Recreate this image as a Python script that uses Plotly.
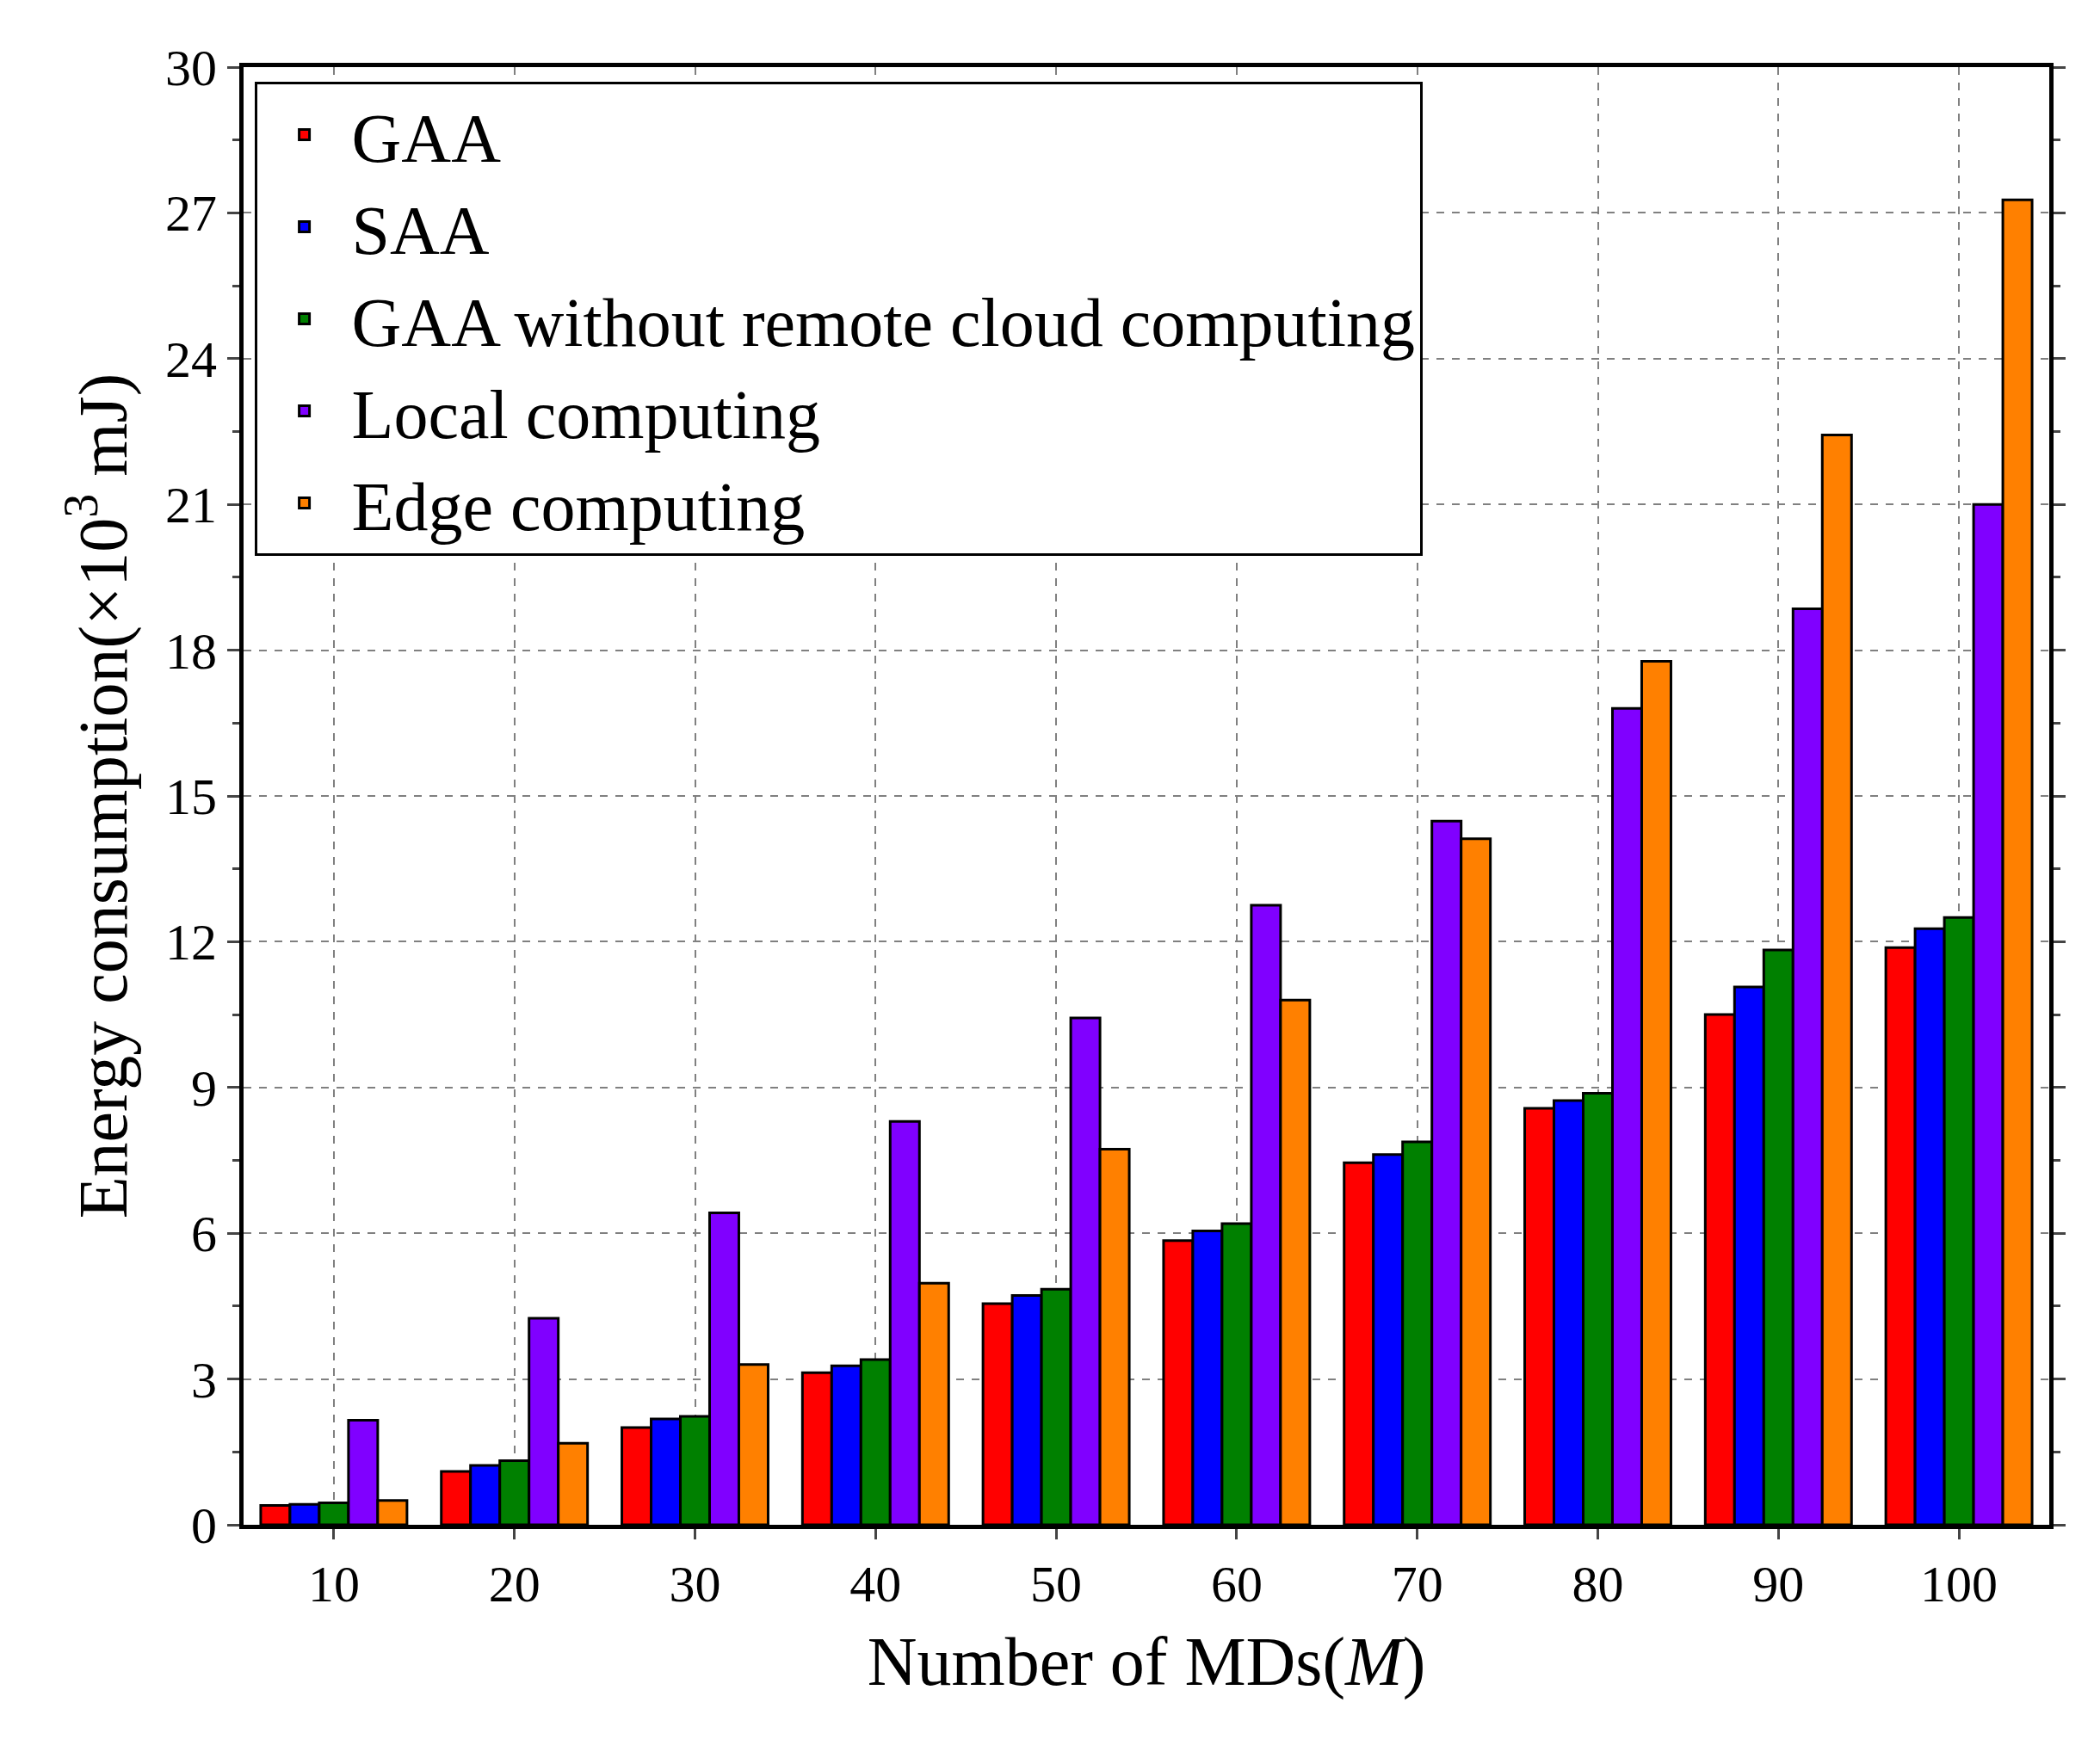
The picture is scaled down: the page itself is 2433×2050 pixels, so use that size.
import plotly.graph_objects as go

categories = ["10","20","30","40","50","60","70","80","90","100"]
gaa   = [0.40,1.10,2.00,3.13,4.55,5.85,7.45,8.57,10.50,11.88]
saa   = [0.42,1.22,2.18,3.27,4.72,6.05,7.62,8.73,11.07,12.27]
gaawo = [0.45,1.32,2.23,3.40,4.85,6.20,7.88,8.88,11.83,12.50]
local = [2.15,4.25,6.42,8.30,10.43,12.75,14.48,16.80,18.85,21.00]
edge  = [0.50,1.68,3.30,4.97,7.73,10.80,14.12,17.77,22.43,27.27]

series = [("GAA",gaa,"#ff0000"),("SAA",saa,"#0000ff"),
          ("GAA without remote cloud computing",gaawo,"#008000"),
          ("Local computing",local,"#8000ff"),("Edge computing",edge,"#ff8000")]

fig = go.Figure()
for name, vals, col in series:
    fig.add_trace(go.Bar(x=categories, y=vals, name=name,
                         marker=dict(color=col, line=dict(color="black", width=3))))

font = "Liberation Serif"
fig.update_layout(
    width=2433, height=2050, barmode="group", bargap=0.19, bargroupgap=0,
    plot_bgcolor="white", paper_bgcolor="white",
    margin=dict(l=275, r=60, t=70, b=286),
    font=dict(family=font, size=60, color="black"),
    legend=dict(x=0.006, y=0.99, xanchor="left", yanchor="top",
                bordercolor="black", borderwidth=3, bgcolor="white",
                font=dict(size=80), itemwidth=100, tracegroupgap=0),
    xaxis=dict(title=dict(text="Number of MDs(<i>M</i>)", font=dict(size=80), standoff=30),
               showline=True, mirror=True, linecolor="black", linewidth=5,
               ticks="outside", ticklen=12, tickwidth=3,
               showgrid=True, gridcolor="gray", griddash="dash", gridwidth=2),
    yaxis=dict(title=dict(text="Energy consumption(×10<sup>3</sup> mJ)", font=dict(size=80), standoff=20),
               range=[0,30], dtick=3, showline=True, mirror="ticks", linecolor="black", linewidth=5,
               ticks="outside", ticklen=14, tickwidth=3,
               minor=dict(dtick=1.5, ticks="outside", ticklen=8, tickwidth=3),
               showgrid=True, gridcolor="gray", griddash="dash", gridwidth=2, zeroline=False),
)
fig.write_html("out.html")
